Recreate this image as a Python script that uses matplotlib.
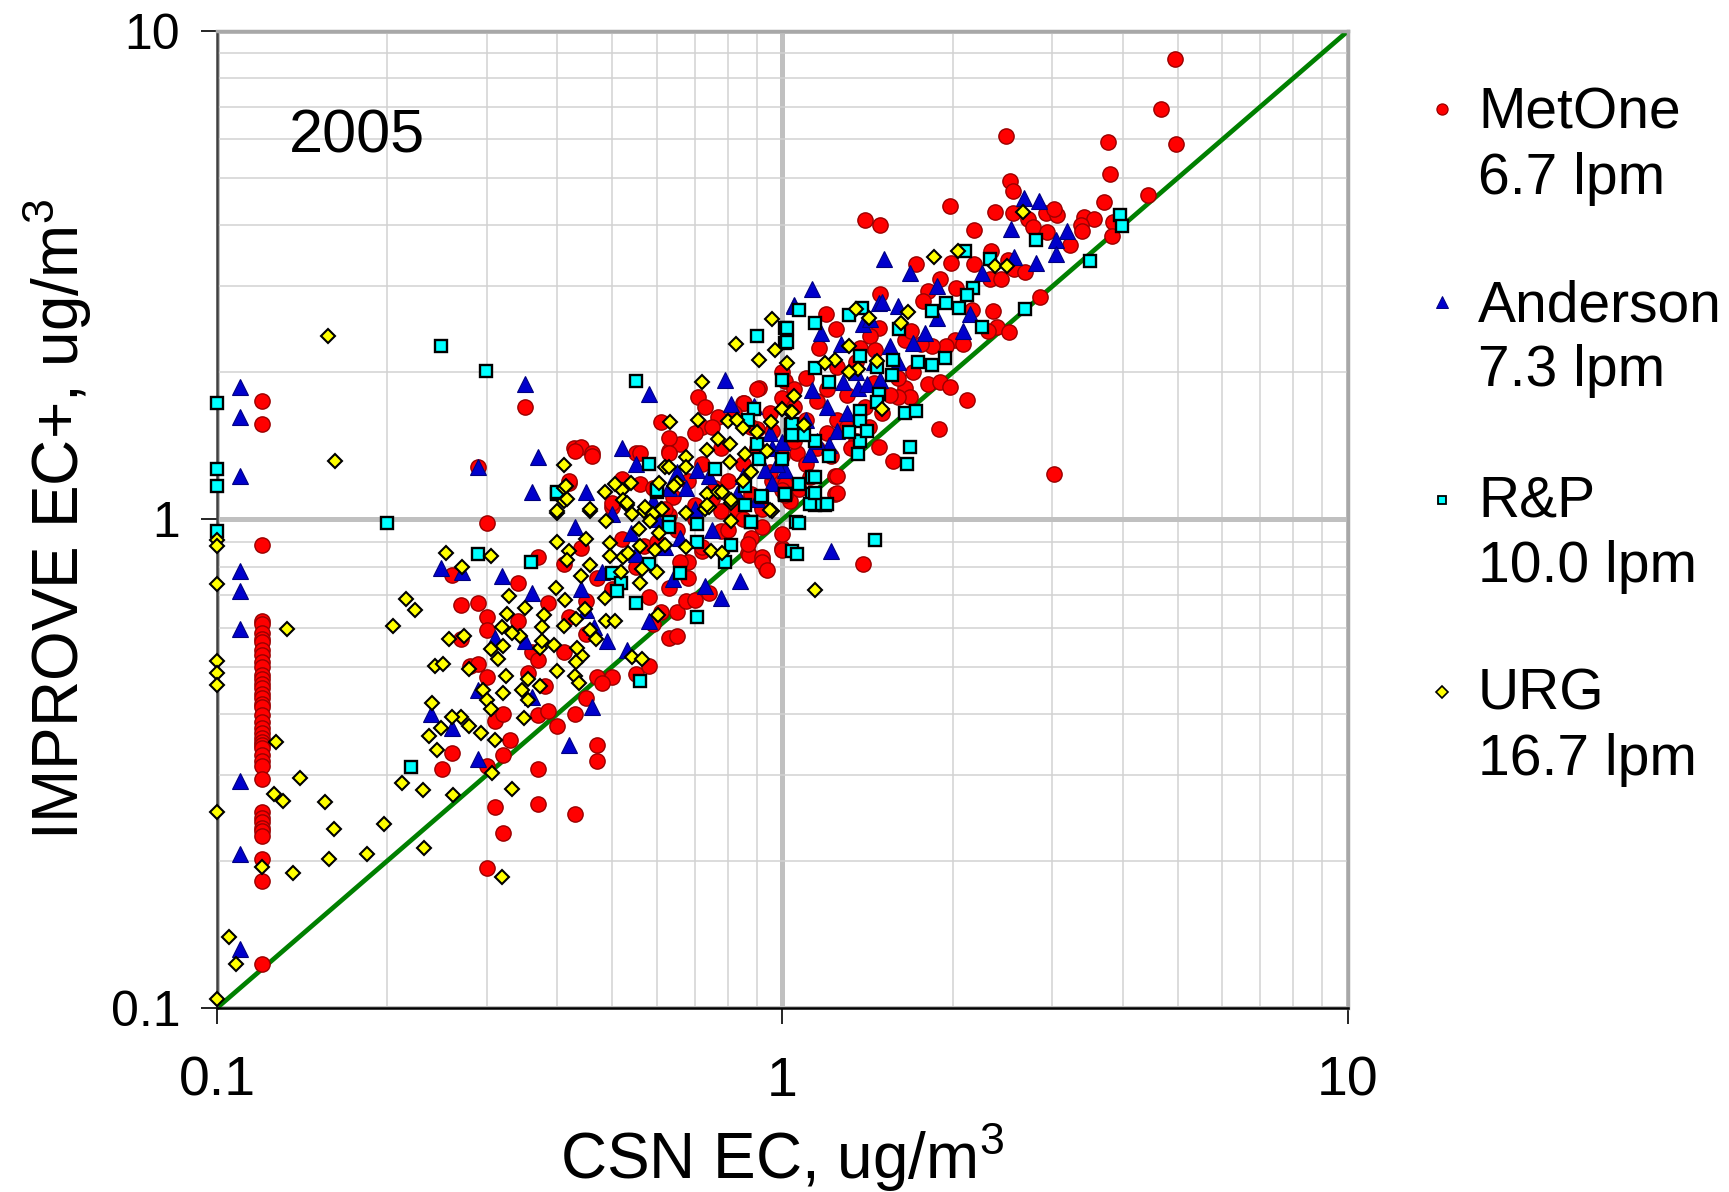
import matplotlib.pyplot as plt
import numpy as np
from matplotlib.lines import Line2D
from matplotlib.ticker import LogLocator, NullFormatter

plt.rcParams['font.family'] = ['Liberation Sans', 'DejaVu Sans']
plt.rcParams['mathtext.fontset'] = 'custom'
plt.rcParams['mathtext.rm'] = 'Liberation Sans'

# (CSN EC, IMPROVE EC+) pairs, ug/m3
metone = np.array([
    (4.95, 8.77), (4.68, 6.93), (4.97, 5.88), (2.49, 6.09), (3.77, 5.92), (3.79, 5.09), (2.53, 4.92),
    (2.56, 4.71), (4.43, 4.62), (3.71, 4.46), (1.98, 4.38), (1.40, 4.10), (1.49, 4.00), (2.38, 4.27),
    (2.56, 4.25), (2.72, 4.12), (2.92, 4.24), (3.06, 4.20), (3.02, 4.32), (2.77, 3.97), (2.94, 3.88),
    (3.42, 4.17), (3.56, 4.12), (3.37, 4.00), (3.39, 3.89), (3.84, 4.07), (3.83, 3.80), (3.23, 3.64),
    (2.18, 3.92), (2.34, 3.55), (1.99, 3.35), (2.18, 3.33), (1.72, 3.33), (2.51, 3.40), (2.57, 3.25),
    (2.69, 3.21), (2.33, 3.11), (2.43, 3.10), (1.90, 3.11), (1.81, 2.94), (2.03, 2.98), (1.77, 2.80),
    (1.49, 2.90), (1.195, 2.63), (2.36, 2.67), (2.85, 2.85), (2.16, 2.69), (1.245, 2.46), (1.16, 2.24),
    (2.40, 2.48), (2.52, 2.42), (2.31, 2.43), (2.02, 2.33), (2.09, 2.29), (1.95, 2.27), (1.84, 2.26),
    (1.76, 2.29), (1.65, 2.33), (1.69, 2.43), (1.48, 2.47), (1.43, 2.38), (1.37, 2.24), (1.46, 2.22),
    (1.81, 1.89), (1.90, 1.91), (1.98, 1.87), (2.12, 1.76), (1.89, 1.53), (1.65, 1.86), (1.68, 1.78),
    (1.60, 1.78), (1.48, 1.41), (1.57, 1.32), (1.24, 1.23), (1.24, 1.13), (3.02, 1.24),
    (0.12, 1.75), (0.12, 1.57), (0.12, 0.888), (0.12, 0.62), (0.12, 0.611), (0.12, 0.586), (0.12, 0.57),
    (0.12, 0.56), (0.12, 0.541), (0.12, 0.528), (0.12, 0.51), (0.12, 0.498), (0.12, 0.48), (0.12, 0.471),
    (0.12, 0.46), (0.12, 0.452), (0.12, 0.44), (0.12, 0.431), (0.12, 0.42), (0.12, 0.413), (0.12, 0.397),
    (0.12, 0.385), (0.12, 0.375), (0.12, 0.365), (0.12, 0.357), (0.12, 0.35), (0.12, 0.345), (0.12, 0.34),
    (0.12, 0.329), (0.12, 0.32), (0.12, 0.313), (0.12, 0.294), (0.12, 0.252), (0.12, 0.245), (0.12, 0.24),
    (0.12, 0.234), (0.12, 0.23), (0.12, 0.225), (0.12, 0.202), (0.12, 0.182), (0.12, 0.123),
    (0.35, 1.70), (0.29, 1.28), (0.428, 1.40), (0.44, 1.41), (0.46, 1.37), (0.42, 1.19), (0.50, 1.06),
    (0.55, 1.37), (0.61, 1.58), (0.63, 1.38), (0.66, 1.43), (0.71, 1.78), (0.73, 1.70), (0.77, 1.62),
    (0.72, 1.55), (0.85, 1.73), (0.91, 1.86), (1.01, 1.92), (0.52, 1.19), (0.56, 1.18), (0.59, 1.16),
    (0.64, 1.11), (0.70, 1.07), (0.76, 1.16), (0.83, 1.09), (0.88, 1.13), (0.96, 1.20), (1.01, 1.18),
    (1.03, 1.09), (0.92, 1.06), (0.78, 1.04), (0.63, 1.02), (0.56, 1.37), (0.63, 1.47), (0.70, 1.50),
    (0.90, 1.53), (0.96, 1.52), (1.05, 1.85), (1.00, 1.77), (1.06, 1.37), (0.854, 1.73), (0.629, 1.37),
    (0.52, 1.21), (0.46, 1.35), (0.43, 1.38), (0.42, 1.20),
    (0.30, 0.982), (0.27, 0.668), (0.29, 0.674), (0.30, 0.631), (0.30, 0.593), (0.27, 0.568), (0.26, 0.77),
    (0.34, 0.742), (0.28, 0.502), (0.29, 0.507), (0.30, 0.475), (0.31, 0.387), (0.32, 0.40), (0.33, 0.354),
    (0.32, 0.329), (0.30, 0.313), (0.25, 0.308), (0.26, 0.332), (0.31, 0.258), (0.32, 0.228), (0.30, 0.193),
    (0.37, 0.308), (0.37, 0.262), (0.43, 0.25), (0.47, 0.345), (0.47, 0.32), (0.40, 0.378), (0.43, 0.40),
    (0.37, 0.397), (0.385, 0.405), (0.45, 0.432), (0.47, 0.475), (0.50, 0.475), (0.48, 0.463), (0.55, 0.482),
    (0.58, 0.502), (0.63, 0.572), (0.65, 0.577), (0.59, 0.611), (0.65, 0.647), (0.675, 0.68), (0.87, 0.852),
    (0.92, 0.825), (0.935, 0.792), (1.00, 0.874), (0.355, 0.486), (0.36, 0.536), (0.38, 0.457), (0.37, 0.515),
    (0.34, 0.621), (0.37, 0.839), (0.41, 0.812), (0.44, 0.874), (0.47, 0.76), (0.50, 1.08), (0.52, 0.91),
    (0.57, 0.881), (0.68, 0.818), (0.72, 0.86), (0.63, 0.725), (0.58, 0.695), (0.61, 0.647), (0.70, 0.685),
    (0.74, 0.707), (0.68, 0.76), (0.78, 0.948), (0.88, 0.917), (0.83, 1.045), (0.92, 0.963), (1.00, 0.932),
    (0.45, 0.582), (0.41, 0.536), (0.42, 0.631), (0.385, 0.674),
    (1.39, 0.811), (1.00, 0.868), (0.872, 0.844), (0.92, 0.837), (0.92, 0.818), (0.94, 0.789), (1.25, 1.134),
    (1.25, 1.23), (1.07, 1.156), (1.01, 1.12), (0.87, 0.892),
    (0.95, 1.25), (1.00, 1.35), (1.05, 1.45), (1.10, 1.30), (1.15, 1.40), (1.20, 1.50), (1.25, 1.60),
    (1.30, 1.55), (1.35, 1.45), (1.10, 1.60), (1.05, 1.70), (1.15, 1.75), (1.20, 1.85), (1.30, 1.80),
    (1.40, 1.70), (1.45, 1.90), (0.90, 1.40), (0.85, 1.30), (0.80, 1.20), (0.75, 1.10), (0.70, 1.00),
    (0.65, 0.95), (0.60, 0.90), (0.55, 0.80), (0.50, 0.72), (0.45, 0.68), (0.62, 1.05), (0.68, 1.20),
    (0.72, 1.30), (0.78, 1.40), (0.88, 1.55), (0.95, 1.65), (1.00, 1.15), (0.92, 1.05), (0.85, 1.00),
    (0.80, 0.95), (0.72, 0.88), (0.66, 0.82), (1.12, 1.22), (1.22, 1.35), (1.32, 1.40), (1.42, 1.55),
    (1.50, 1.65), (1.55, 1.80), (1.60, 1.95), (1.70, 2.00), (1.10, 1.95), (1.25, 2.05), (1.35, 2.10),
    (1.00, 2.00), (0.90, 1.85), (0.82, 1.65), (0.75, 1.55),
])

anderson = np.array([
    (2.67, 4.56), (2.84, 4.48), (2.54, 3.94), (3.19, 3.90), (3.04, 3.73), (3.05, 3.49), (2.81, 3.35),
    (2.57, 3.45), (1.51, 3.42), (1.68, 3.19), (2.25, 3.20), (1.88, 3.00), (1.13, 2.96), (1.05, 2.75),
    (2.15, 2.64), (1.88, 2.58), (1.79, 2.41), (2.09, 2.43), (1.55, 2.26), (1.17, 2.41), (1.27, 2.29),
    (1.39, 2.51), (1.48, 2.77), (1.50, 2.79), (1.43, 2.57), (1.60, 2.74), (1.28, 1.91), (1.36, 1.86),
    (1.41, 1.89), (1.49, 1.93), (1.13, 1.84), (1.25, 1.52), (1.12, 1.36), (1.21, 1.42), (1.01, 1.26),
    (0.11, 1.87), (0.11, 1.62), (0.11, 1.23), (0.35, 1.89), (0.58, 1.81), (0.79, 1.93), (0.29, 1.28),
    (0.37, 1.34), (0.36, 1.14), (0.45, 1.14), (0.52, 1.40), (0.81, 1.72), (0.89, 1.71), (1.05, 2.74),
    (0.706, 1.26), (0.74, 1.23), (0.63, 1.16), (0.675, 1.16), (0.96, 1.40), (1.00, 1.44), (0.93, 1.26),
    (0.98, 1.30), (0.85, 1.23), (0.55, 1.30), (0.59, 1.09),
    (0.11, 0.786), (0.11, 0.713), (0.11, 0.596), (0.11, 0.291), (0.11, 0.207), (0.11, 0.132),
    (0.249, 0.795), (0.271, 0.782), (0.239, 0.40), (0.26, 0.375), (0.29, 0.323), (0.319, 0.767),
    (0.36, 0.707), (0.42, 0.346), (0.46, 0.413), (0.49, 0.563), (0.53, 0.541), (0.84, 0.748), (0.73, 0.73),
    (0.78, 0.69), (0.64, 0.755), (0.43, 0.963), (0.50, 1.028), (0.54, 0.94), (0.66, 0.917), (0.83, 1.13),
    (0.96, 1.19), (0.31, 0.572), (0.35, 0.563), (0.29, 0.448), (0.36, 0.434), (0.45, 0.652), (0.465, 0.601),
    (1.22, 0.86),
    (0.60, 1.00), (0.70, 1.05), (0.75, 0.95), (0.65, 1.25), (0.90, 1.10), (1.10, 1.60), (1.20, 1.70),
    (1.30, 1.65), (1.15, 1.45), (0.95, 1.50), (1.35, 2.00), (1.60, 2.10), (1.70, 2.30), (1.45, 2.10),
    (0.55, 0.85), (0.48, 0.78), (0.44, 0.72), (0.58, 0.62), (0.62, 0.88),
])

rp = np.array([
    (3.95, 4.21), (3.98, 3.99), (2.81, 3.74), (3.50, 3.38), (2.10, 3.55), (2.33, 3.41), (2.69, 2.70),
    (2.17, 2.98), (2.12, 2.88), (1.95, 2.78), (2.05, 2.71), (2.25, 2.48), (1.84, 2.67), (1.61, 2.45),
    (1.07, 2.69), (1.14, 2.52), (1.31, 2.62), (1.38, 2.71), (1.01, 2.47), (1.01, 2.30), (1.37, 2.16),
    (1.57, 2.12), (1.74, 2.10), (1.84, 2.07), (1.94, 2.14), (1.56, 1.98), (1.47, 2.05), (1.14, 2.04),
    (1.21, 1.91), (1.00, 1.93), (1.48, 1.81), (1.47, 1.74), (1.37, 1.67), (1.37, 1.59), (1.37, 1.45),
    (1.36, 1.36), (1.41, 1.52), (1.31, 1.51), (1.21, 1.35), (1.14, 1.45), (1.035, 1.56), (1.035, 1.49),
    (1.09, 1.49), (1.65, 1.65), (1.72, 1.67), (1.68, 1.41), (1.66, 1.30), (1.13, 1.22), (1.13, 1.13),
    (1.14, 1.07), (1.19, 1.07), (1.01, 1.12),
    (0.249, 2.26), (0.299, 2.01), (0.10, 1.73), (0.10, 1.27), (0.10, 1.17), (0.55, 1.92), (0.90, 2.38),
    (1.02, 2.47), (1.02, 2.31), (0.58, 1.30), (0.76, 1.27), (0.89, 1.68), (0.87, 1.60), (1.04, 1.57),
    (1.04, 1.49), (0.90, 1.43), (0.91, 1.33), (1.00, 1.33), (0.86, 1.17), (0.60, 1.14), (0.92, 1.11),
    (1.01, 1.13), (0.40, 1.13),
    (0.10, 0.945), (0.20, 0.982), (0.22, 0.311), (0.29, 0.848), (0.359, 0.818), (0.399, 1.137), (0.60, 1.15),
    (0.631, 0.99), (0.707, 0.898), (0.916, 1.115), (0.88, 0.99), (0.86, 1.07), (0.79, 0.818), (0.81, 0.885),
    (0.66, 0.776), (0.55, 0.676), (0.56, 0.466), (0.707, 0.631), (0.58, 0.812), (0.50, 0.777), (0.518, 0.742),
    (1.04, 0.86), (0.707, 0.979), (0.63, 0.963), (0.51, 0.713),
    (1.46, 0.906), (1.06, 0.85), (1.055, 0.987), (1.07, 0.985), (1.14, 1.077), (1.20, 1.074), (1.12, 1.077),
    (1.14, 1.134), (1.01, 1.129), (1.07, 1.18), (0.878, 0.987), (1.14, 1.22),
])

urg = np.array([
    (2.66, 4.27), (1.85, 3.44), (2.04, 3.54), (2.38, 3.30), (2.50, 3.31), (1.35, 2.70), (1.42, 2.58),
    (1.67, 2.66), (1.62, 2.52), (1.31, 2.26), (1.24, 2.12), (1.19, 2.09), (1.36, 2.03), (1.31, 2.00),
    (1.47, 2.11), (1.05, 1.79), (1.03, 1.66), (1.00, 1.68), (1.09, 1.56), (1.50, 1.68), (1.02, 2.09),
    (0.157, 2.37), (0.162, 1.32), (0.958, 2.57), (0.826, 2.29), (0.91, 2.12), (0.97, 2.22), (0.72, 1.91),
    (0.632, 1.58), (0.710, 1.60), (0.801, 1.59), (0.830, 1.60), (0.850, 1.54), (0.901, 1.51), (0.955, 1.58),
    (0.997, 1.68), (1.04, 1.66), (0.770, 1.46), (0.808, 1.43), (0.736, 1.39), (0.675, 1.34), (0.808, 1.31),
    (0.86, 1.36), (0.88, 1.25), (0.94, 1.38), (0.85, 1.20), (0.675, 1.28), (0.736, 1.13), (0.77, 1.14),
    (0.81, 1.08), (0.96, 1.04), (0.675, 1.03), (0.62, 1.28), (0.605, 1.19), (0.54, 1.19), (0.52, 1.15),
    (0.53, 1.07), (0.57, 1.04), (0.59, 1.02), (0.61, 1.05), (0.65, 1.19), (0.73, 1.05), (0.63, 1.28),
    (0.41, 1.29), (0.41, 1.16), (0.41, 1.09), (0.40, 1.03), (0.457, 1.04),
    (0.10, 0.906), (0.10, 0.881), (0.10, 0.739), (0.10, 0.513), (0.10, 0.484), (0.10, 0.458), (0.10, 0.252),
    (0.10, 0.1045), (0.105, 0.140), (0.108, 0.123), (0.133, 0.596), (0.127, 0.351), (0.140, 0.296),
    (0.126, 0.274), (0.131, 0.265), (0.155, 0.264), (0.161, 0.233), (0.158, 0.202), (0.136, 0.189),
    (0.12, 0.194), (0.184, 0.207), (0.197, 0.238), (0.232, 0.213), (0.212, 0.289), (0.231, 0.279),
    (0.261, 0.273), (0.205, 0.606), (0.216, 0.688), (0.224, 0.654), (0.243, 0.502), (0.251, 0.507),
    (0.240, 0.421), (0.237, 0.360), (0.249, 0.375), (0.245, 0.337), (0.307, 0.302), (0.333, 0.281),
    (0.319, 0.185), (0.254, 0.852), (0.271, 0.799), (0.305, 0.843), (0.257, 0.570), (0.273, 0.577),
    (0.270, 0.394), (0.279, 0.378), (0.293, 0.366), (0.26, 0.394), (0.31, 0.354), (0.279, 0.494),
    (0.295, 0.448), (0.30, 0.427), (0.305, 0.41), (0.32, 0.441), (0.324, 0.478), (0.305, 0.542),
    (0.321, 0.552), (0.314, 0.519), (0.329, 0.698), (0.326, 0.641), (0.35, 0.66), (0.319, 0.603),
    (0.343, 0.577), (0.332, 0.586), (0.355, 0.472), (0.372, 0.457), (0.346, 0.448), (0.355, 0.427),
    (0.349, 0.392), (0.372, 0.545), (0.378, 0.636), (0.375, 0.603), (0.375, 0.565), (0.394, 0.554),
    (0.40, 0.49), (0.43, 0.478), (0.436, 0.463), (0.442, 0.526), (0.432, 0.511), (0.434, 0.545),
    (0.457, 0.593), (0.41, 0.606), (0.432, 0.626), (0.468, 0.568), (0.447, 0.657), (0.397, 0.724),
    (0.413, 0.684), (0.44, 0.767), (0.457, 0.808), (0.45, 0.91), (0.40, 0.90), (0.42, 0.86), (0.416, 0.825),
    (0.40, 1.04), (0.416, 1.10), (0.414, 1.17), (0.457, 1.05), (0.487, 0.995), (0.495, 0.895), (0.487, 0.62),
    (0.505, 0.62), (0.543, 0.523), (0.564, 0.519), (0.522, 1.097), (0.532, 1.082), (0.543, 1.028),
    (0.571, 1.059), (0.591, 1.028), (0.613, 1.053), (0.582, 0.995), (0.605, 0.94), (0.619, 0.888),
    (0.596, 0.866), (0.558, 0.955), (0.56, 0.881), (0.522, 0.839), (0.534, 0.853), (0.496, 0.843),
    (0.518, 0.78), (0.564, 0.79), (0.56, 0.742), (0.60, 0.78), (0.644, 1.17), (0.741, 1.062), (0.81, 0.995),
    (0.675, 0.877), (0.747, 0.86), (0.783, 0.852), (0.95, 1.045), (0.735, 1.07), (0.783, 1.137),
    (0.81, 1.097), (0.486, 0.69), (0.486, 1.14), (0.506, 1.18), (0.603, 0.636), (1.14, 0.718),
])

series_names = ['MetOne', 'Anderson', 'R&P', 'URG']
flow_labels = ['6.7 lpm', '7.3 lpm', '10.0 lpm', '16.7 lpm']
colors = [('#ff0000', '#990000'), ('#0000cc', '#000080'), ('#00ffff', '#000000'), ('#ffff00', '#000000')]
markers = ['o', '^', 's', 'D']
plot_ms = [11.0, 12.0, 8.2, 7.2]
plot_mew = [1.0, 0.8, 1.7, 1.5]
legend_ms = [8.0, 9.0, 6.0, 6.0]
legend_mew = [0.9, 0.7, 1.3, 1.2]

fig = plt.figure(figsize=(17.29, 11.92), dpi=100)
ax = fig.add_axes([0.1255, 0.1544, 0.6541, 0.8196])
ax.set_xscale('log')
ax.set_yscale('log')
ax.set_xlim(0.1, 10)
ax.set_ylim(0.1, 10)

for data, mk, (fc, ec), ms, mew in zip([metone, anderson, rp, urg], markers, colors, plot_ms, plot_mew):
    ax.plot(data[:, 0], data[:, 1], ls='none', marker=mk, ms=ms, mfc=fc, mec=ec, mew=mew,
            clip_on=False, zorder=3)

ax.plot([0.1, 10], [0.1, 10], color='#008000', lw=3.4, zorder=2)

ax.set_xticks([0.1, 1, 10])
ax.set_xticklabels(['0.1', '1', '10'])
ax.set_yticks([0.1, 1, 10])
ax.set_yticklabels(['0.1', '1', '10'])
for axis in (ax.xaxis, ax.yaxis):
    axis.set_minor_locator(LogLocator(base=10, subs=np.arange(2, 10)))
    axis.set_minor_formatter(NullFormatter())
ax.tick_params(which='minor', length=0)
ax.tick_params(which='major', direction='out', length=11.5, width=1.2, color='black')
ax.tick_params(axis='x', labelsize=40, pad=23)
ax.tick_params(axis='y', labelsize=36, pad=15)

ax.grid(which='minor', color='#d2d2d2', lw=1.1)
ax.grid(which='major', color='#c0c0c0', lw=3.6)
ax.set_axisbelow(True)

ax.spines['top'].set_color('#a8a8a8')
ax.spines['right'].set_color('#a8a8a8')
ax.spines['top'].set_linewidth(2.5)
ax.spines['right'].set_linewidth(2.5)
ax.spines['left'].set_color('#404040')
ax.spines['left'].set_linewidth(1.8)
ax.spines['bottom'].set_color('black')
ax.spines['bottom'].set_linewidth(1.8)

ax.set_xlabel('CSN EC, ug/m$^\\mathregular{3}$', fontsize=46)
ax.xaxis.label.set_va('baseline')
ax.xaxis.set_label_coords(0.5, -0.175)
ax.set_ylabel('IMPROVE EC+, ug/m$^\\mathregular{3}$', fontsize=46)
ax.yaxis.label.set_rotation_mode('anchor')
ax.yaxis.label.set_va('baseline')
ax.yaxis.label.set_ha('center')
ax.yaxis.set_label_coords(-0.122, 0.5)

ax.text(0.0637, 0.876, '2005', transform=ax.transAxes, fontsize=44, va='baseline')

# legend drawn by hand: marker beside first line, flow rate on second line
marker_y = [0.9086, 0.7466, 0.5805, 0.4195]
line1_y = [0.8918, 0.7307, 0.5663, 0.4044]
line2_y = [0.8372, 0.6762, 0.5117, 0.3498]
for i, name in enumerate(series_names):
    fc, ec = colors[i]
    fig.add_artist(Line2D([0.834], [marker_y[i]], transform=fig.transFigure, ls='none',
                          marker=markers[i], ms=legend_ms[i], mfc=fc, mec=ec, mew=legend_mew[i]))
    fig.text(0.8548, line1_y[i], name, fontsize=41, va='baseline')
    fig.text(0.8548, line2_y[i], flow_labels[i], fontsize=41, va='baseline')

fig.savefig('out.png', dpi=100)
